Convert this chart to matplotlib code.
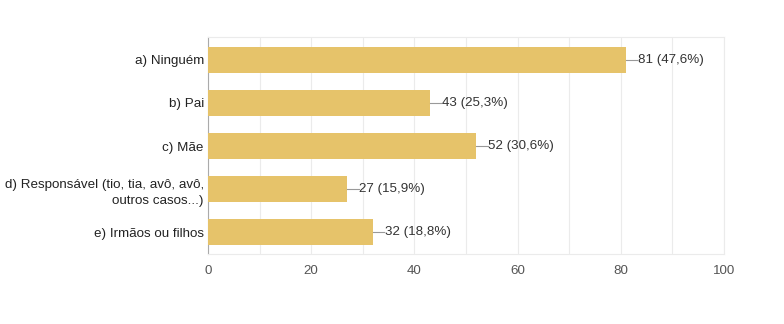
import matplotlib.pyplot as plt
import numpy as np

categorias = ["a) Ninguém", "b) Pai", "c) Mãe",
              "d) Responsável (tio, tia, avô, avô,\noutros casos...)",
              "e) Irmãos ou filhos"]
respostas = [81, 43, 52, 27, 32]
percentuais = ["47,6%", "25,3%", "30,6%", "15,9%", "18,8%"]
xticks = [0, 20, 40, 60, 80, 100]

plt.rcParams['font.family'] = ['Liberation Sans', 'DejaVu Sans']

fig = plt.figure(figsize=(7.84, 3.24), dpi=100)
ax = fig.add_axes([0.2653, 0.216, 0.658, 0.670])

y = np.arange(len(categorias))
ax.barh(y, respostas, height=0.6, color="#E6C36A", zorder=3)

# rotulos com linha guia
for yi, v, p in zip(y, respostas, percentuais):
    ax.plot([v, v + 2.2], [yi, yi], color="#999999", lw=0.8, zorder=3)
    ax.text(v + 2.3, yi, f"{v} ({p})", va="center", ha="left",
            fontsize=9.6, color="#333333")

ax.set_xlim(0, 100)
ax.set_ylim(4.5, -0.53)
ax.set_xticks(xticks)
ax.set_xticks(np.arange(0, 101, 10), minor=True)
ax.set_yticks(y)
ax.set_yticklabels(categorias, fontsize=9.6, color="#222222")
for lbl in ax.get_yticklabels():
    lbl.set_linespacing(1.45)
ax.tick_params(axis="x", which="both", length=0, pad=8, labelsize=9.6,
               labelcolor="#555555")
ax.tick_params(axis="y", length=0, pad=3)
ax.grid(axis="x", which="both", color="#EBEBEB", lw=0.8, zorder=0)

for s in ["top", "right", "bottom"]:
    ax.spines[s].set_color("#EBEBEB")
    ax.spines[s].set_linewidth(0.8)
ax.spines["left"].set_color("#AAAAAA")
ax.spines["left"].set_linewidth(0.8)

fig.savefig("out.png", dpi=100)
